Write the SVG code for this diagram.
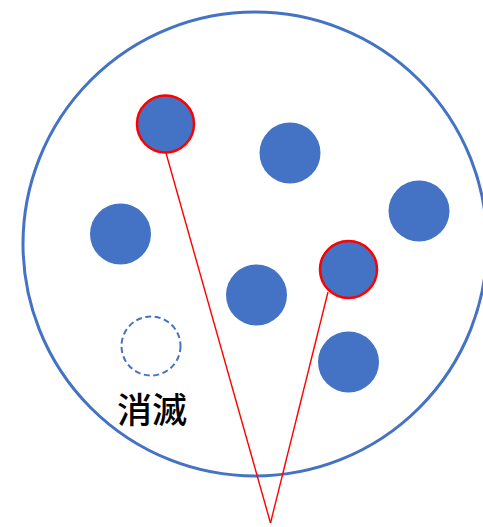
<svg xmlns="http://www.w3.org/2000/svg" width="483" height="527" viewBox="0 0 483 527">
<style>
.big{fill:none;stroke:#4472C4;stroke-width:3}
.dot{fill:#4472C4}
.sel{fill:#4472C4;stroke:#FF0000;stroke-width:2.5}
.gone{fill:none;stroke:#4472C4;stroke-width:2;stroke-dasharray:6 3.5}
.ray{stroke:#FF0000;stroke-width:1.4;fill:none}
.lbl{font-family:"Noto Sans CJK JP","Noto Sans CJK SC",sans-serif;font-size:35px;font-weight:500;fill:#000}
</style>
<rect width="483" height="527" fill="#fff"/>
<g id="population"><circle class="big" cx="255" cy="244" r="232"/></g>
<g id="connectors">
<line class="ray" x1="166" y1="153" x2="270.5" y2="523"/>
<line class="ray" x1="328" y1="292" x2="270.5" y2="523"/>
</g>
<g id="selected1"><circle class="sel" cx="165.5" cy="124" r="28.5"/></g>
<g id="n2"><circle class="dot" cx="290" cy="153" r="30.5"/></g>
<g id="n3"><circle class="dot" cx="419" cy="211" r="30.5"/></g>
<g id="n4"><circle class="dot" cx="120.5" cy="234" r="30.5"/></g>
<g id="n5"><circle class="dot" cx="256.5" cy="295" r="30.5"/></g>
<g id="selected2"><circle class="sel" cx="348.5" cy="269.5" r="28.5"/></g>
<g id="n7"><circle class="dot" cx="348.5" cy="362" r="30.5"/></g>
<g id="vanished"><circle class="gone" cx="151" cy="346" r="29.5"/>
<text class="lbl" x="152" y="423" text-anchor="middle">消滅</text></g>
</svg>
